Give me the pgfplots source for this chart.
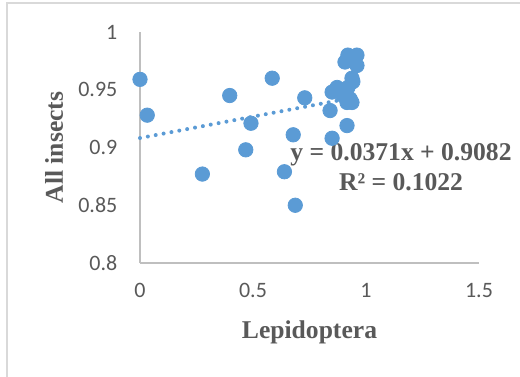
\documentclass[border=0pt]{standalone}
\usepackage{pgfplots}
\pgfplotsset{compat=1.18}
\usepackage{fontspec}
\setmainfont{Liberation Serif}
\newfontfamily\carlito{Carlito}
\definecolor{ptblue}{HTML}{5B9BD5}
\definecolor{txtgray}{HTML}{595959}
\definecolor{axgray}{HTML}{BFBFBF}
\definecolor{framegray}{HTML}{D9D9D9}
\begin{document}
\begin{tikzpicture}
\begin{axis}[
  scale only axis,
  width=169.5pt, height=115.5pt,
  xmin=0, xmax=1.5, ymin=0.8, ymax=1,
  xtick={0,0.5,1,1.5}, ytick={0.8,0.85,0.9,0.95,1},
  axis x line=bottom, axis y line=left,
  axis line style={axgray, line width=0.8pt, -},
  major tick length=0pt,
  /pgf/number format/assume math mode=true,
  ticklabel style={font=\carlito\fontsize{11}{13}\selectfont, text=txtgray},
  yticklabel style={xshift=-7.8pt},
  xticklabel style={yshift=-6.6pt},
  every axis y label/.style={at={(axis description cs:0,0.5)}, xshift=-43pt, rotate=90, anchor=center},
  every axis x label/.style={at={(axis description cs:0.5,0)}, yshift=-34.5pt, anchor=center},
  label style={font=\bfseries\fontsize{12.8}{15}\selectfont, text=txtgray},
  xlabel={Lepidoptera}, ylabel={All insects},
  clip=false,
]
\addplot[ptblue, line width=2pt, dash pattern=on 0pt off 4pt, line cap=round] coordinates {(0,0.9082) (0.96,0.9438)};
\addplot[only marks, mark=*, mark size=3.6pt, mark options={fill=ptblue, draw=ptblue}] coordinates {
(0,0.959) (0.032,0.928) (0.276,0.877) (0.397,0.945) (0.468,0.898) (0.491,0.921)
(0.585,0.960) (0.639,0.879) (0.678,0.911) (0.687,0.850) (0.729,0.943)
(0.920,0.980) (0.960,0.980) (0.907,0.974) (0.960,0.971) (0.938,0.960) (0.942,0.957)
(0.920,0.952) (0.872,0.952) (0.850,0.948) (0.898,0.945) (0.938,0.939) (0.916,0.939)
(0.930,0.942) (0.841,0.932) (0.916,0.919) (0.850,0.908)
};
\node[anchor=base, font=\bfseries\fontsize{12.8}{15}\selectfont, text=txtgray] at (axis cs:1.155,0.889) {y = 0.0371x + 0.9082};
\node[anchor=base, font=\bfseries\fontsize{12.8}{15}\selectfont, text=txtgray] at (axis cs:1.155,0.863) {R² = 0.1022};
\end{axis}
\draw[framegray, line width=0.8pt] (-66.5pt,-80pt) rectangle (210pt,130pt);
\pgfresetboundingbox
\path[use as bounding box] (-70pt,-56.5pt) rectangle (190pt,131.5pt);
\end{tikzpicture}
\end{document}
